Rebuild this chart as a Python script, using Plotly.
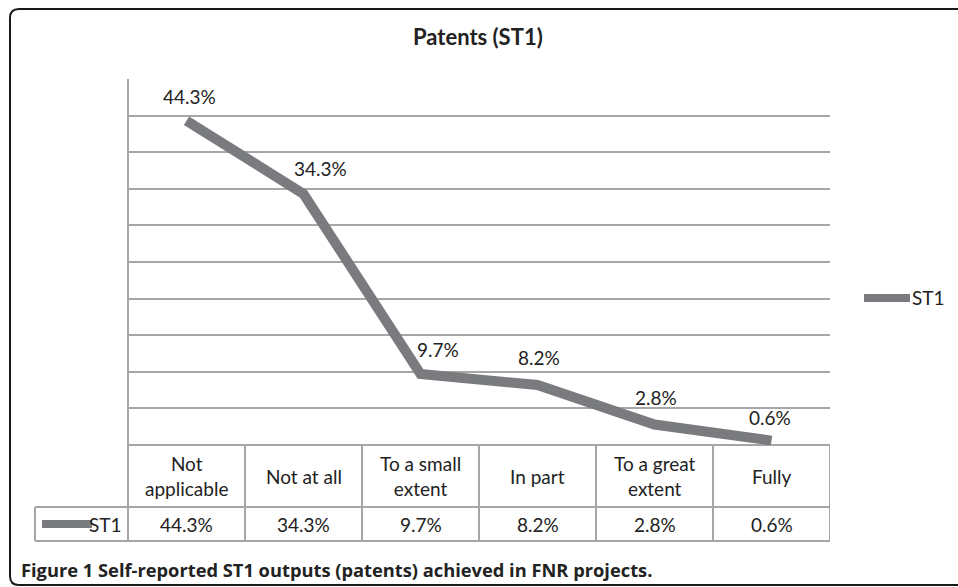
import plotly.graph_objects as go

W, H = 958, 587

categories = ["Not applicable", "Not at all", "To a small extent", "In part", "To a great extent", "Fully"]
header_labels = ["Not<br>applicable", "Not at all", "To a small<br>extent", "In part", "To a great<br>extent", "Fully"]
st1_values = [0.443, 0.343, 0.097, 0.082, 0.028, 0.006]
series_name = "ST1"
title_text = "Patents (ST1)"
caption_text = "Figure 1 Self-reported ST1 outputs (patents) achieved in FNR projects."

LINE_C = "#7a7b7e"
GRID_C = "#a6a6a6"
FONT = "Lato"
TXT_C = "#222222"
label_xshift = [3, 17, 17, 1, 1, -2]
label_yshift = [24, 25, 25, 27, 27, 23]

def px(x):
    return x / W

def py(y):
    return 1 - y / H

# plot area in page pixels
L, R, T, B = 128, 830, 79, 445
ROW1_B, ROW2_B = 507, 541

fig = go.Figure()
fig.add_trace(go.Scatter(
    x=list(range(len(categories))), y=st1_values, mode="lines", name=series_name,
    line=dict(color=LINE_C, width=10), showlegend=False, hoverinfo="skip",
))

shapes = []
annotations = []

# data labels
for i, v in enumerate(st1_values):
    annotations.append(dict(x=i, y=v, xref="x", yref="y", text=f"{v*100:.1f}%",
                            showarrow=False, yshift=label_yshift[i], xshift=label_xshift[i],
                            font=dict(family=FONT, size=19, color=TXT_C)))

# table horizontal lines
shapes.append(dict(type="line", xref="paper", yref="paper", x0=px(35), x1=px(R), y0=py(ROW1_B), y1=py(ROW1_B),
                   line=dict(color=GRID_C, width=2)))
shapes.append(dict(type="line", xref="paper", yref="paper", x0=px(35), x1=px(R), y0=py(ROW2_B), y1=py(ROW2_B),
                   line=dict(color=GRID_C, width=2)))
# left legend cell border
shapes.append(dict(type="line", xref="paper", yref="paper", x0=px(35), x1=px(35), y0=py(ROW1_B), y1=py(ROW2_B),
                   line=dict(color=GRID_C, width=2)))
# left axis line (extends through table)
shapes.append(dict(type="line", xref="paper", yref="paper", x0=px(L), x1=px(L), y0=py(T), y1=py(ROW2_B),
                   line=dict(color=GRID_C, width=2)))
# column dividers
for i in range(len(categories)):
    shapes.append(dict(type="line", xref="x", yref="paper", x0=i + 0.5, x1=i + 0.5, y0=py(B), y1=py(ROW2_B),
                       line=dict(color=GRID_C, width=2)))

# table text
for i, (h, v) in enumerate(zip(header_labels, st1_values)):
    annotations.append(dict(x=i, y=py((B + ROW1_B) / 2), xref="x", yref="paper", text=h, showarrow=False,
                            yanchor="middle", font=dict(family=FONT, size=19, color=TXT_C)))
    annotations.append(dict(x=i, y=py((ROW1_B + ROW2_B) / 2), xref="x", yref="paper", text=f"{v*100:.1f}%",
                            showarrow=False, yanchor="middle", font=dict(family=FONT, size=19, color=TXT_C)))

# legend keys (table row and right-hand legend)
for (x0, x1, yk, xt) in [(42, 92, 524, 124), (864, 910, 298, 947)]:
    shapes.append(dict(type="line", xref="paper", yref="paper", x0=px(x0), x1=px(x1), y0=py(yk), y1=py(yk),
                       line=dict(color=LINE_C, width=8)))
    annotations.append(dict(x=px(xt), y=py(yk), xref="paper", yref="paper", text=series_name, showarrow=False,
                            xanchor="right", yanchor="middle", font=dict(family=FONT, size=19, color=TXT_C)))

# title
annotations.append(dict(x=px(478), y=py(36), xref="paper", yref="paper", text=f"<b>{title_text}</b>",
                        showarrow=False, xanchor="center", yanchor="middle",
                        font=dict(family=FONT, size=22, color=TXT_C)))
# caption
annotations.append(dict(x=px(19), y=py(569), xref="paper", yref="paper", text=f"<b>{caption_text}</b>",
                        showarrow=False, xanchor="left", yanchor="middle",
                        font=dict(family="Open Sans", size=18.3, color=TXT_C)))

# outer frame with rounded left corners (open to the right)
r = 9
top, bot, lft, rgt = 9, 585, 10, 960
frame = (f"M {px(rgt)},{py(top)} L {px(lft + r)},{py(top)} Q {px(lft)},{py(top)} {px(lft)},{py(top + r)} "
         f"L {px(lft)},{py(bot - r)} Q {px(lft)},{py(bot)} {px(lft + r)},{py(bot)} L {px(rgt)},{py(bot)}")
shapes.append(dict(type="path", xref="paper", yref="paper", path=frame, line=dict(color="#1a1a1a", width=2)))

fig.update_layout(
    width=W, height=H,
    margin=dict(l=0, r=0, t=0, b=0),
    paper_bgcolor="white", plot_bgcolor="white",
    xaxis=dict(domain=[px(L), px(R)], range=[-0.5, len(categories) - 0.5], showgrid=False,
               showticklabels=False, zeroline=False, showline=False, ticks=""),
    yaxis=dict(domain=[py(B), py(T)], range=[0, 0.5], dtick=0.05, showgrid=True, gridcolor=GRID_C,
               gridwidth=1.5, showticklabels=False, zeroline=True, zerolinecolor=GRID_C, zerolinewidth=2,
               showline=False, ticks=""),
    showlegend=False,
    hovermode=False,
    shapes=shapes,
    annotations=annotations,
)

fig.write_html("out.html", config={"displayModeBar": False},
               post_script="document.body.style.margin='0';document.body.style.overflow='hidden';")
